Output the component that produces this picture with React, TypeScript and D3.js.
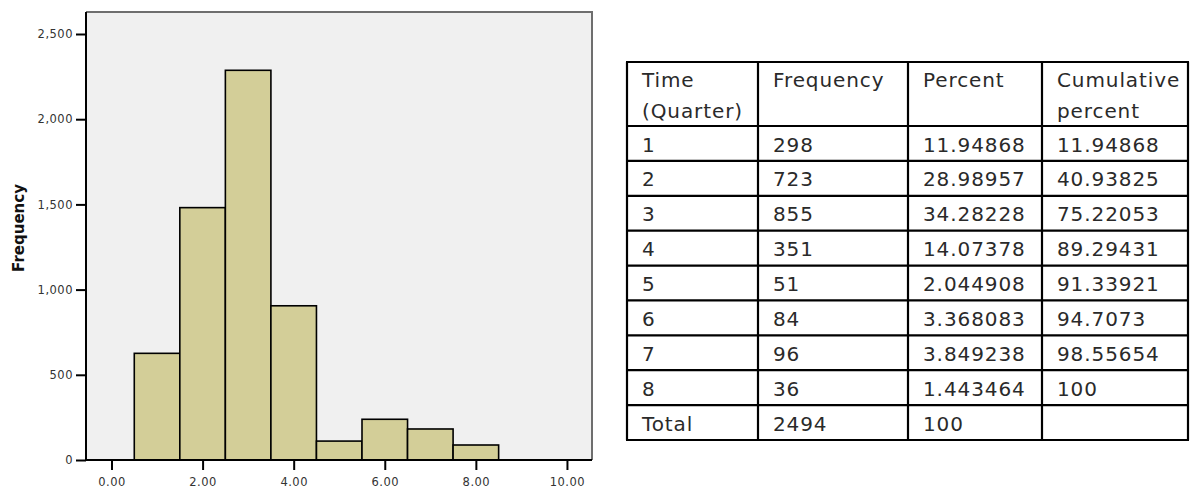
import * as d3 from "d3";
import { useEffect, useRef } from "react";

// histogram bins (quarter midpoints) and counts
const binCenters = [1, 2, 3, 4, 5, 6, 7, 8];
const binCounts = [626, 1481, 2287, 905, 111, 239, 182, 88];
const yTicks = [0, 500, 1000, 1500, 2000, 2500];
const xTicks = [0, 2, 4, 6, 8, 10];

// frequency table
const tableHeader = [["Time", "(Quarter)"], ["Frequency"], ["Percent"], ["Cumulative", "percent"]];
const quarters = ["1", "2", "3", "4", "5", "6", "7", "8", "Total"];
const frequencies = ["298", "723", "855", "351", "51", "84", "96", "36", "2494"];
const percents = ["11.94868", "28.98957", "34.28228", "14.07378", "2.044908", "3.368083", "3.849238", "1.443464", "100"];
const cumulatives = ["11.94868", "40.93825", "75.22053", "89.29431", "91.33921", "94.7073", "98.55654", "100", ""];

const App = () => {
  const svgRef = useRef(null);

  useEffect(() => {
    const w = 1190;
    const h = 489;
    const svg = d3.select(svgRef.current).attr("width", w).attr("height", h);
    svg.selectAll("*").remove();

    // plot area
    const left = 86, right = 592, top = 12, bottom = 460;
    const xScale = d3.scaleLinear().domain([-0.56, 10.55]).range([left, right]);
    const yScale = d3.scaleLinear().domain([0, 2500]).range([bottom, 34]);

    svg
      .append("rect")
      .attr("x", left)
      .attr("y", top)
      .attr("width", right - left)
      .attr("height", bottom - top)
      .attr("fill", "#f0f0f0");

    // top / right frame is grey
    svg
      .append("path")
      .attr("d", `M${left},${top}H${right}V${bottom}`)
      .attr("fill", "none")
      .attr("stroke", "#6e6e6e")
      .attr("stroke-width", 2);

    // bars
    svg
      .selectAll("rect.bar")
      .data(binCenters)
      .enter()
      .append("rect")
      .attr("class", "bar")
      .attr("x", (d) => xScale(d - 0.5))
      .attr("width", (d) => xScale(d + 0.5) - xScale(d - 0.5))
      .attr("y", (d, i) => yScale(binCounts[i]))
      .attr("height", (d, i) => yScale(0) - yScale(binCounts[i]))
      .attr("fill", "#d3ce98")
      .attr("stroke", "#000")
      .attr("stroke-width", 1.6);

    // axes
    const yAxis = d3
      .axisLeft(yScale)
      .tickValues(yTicks)
      .tickSize(10)
      .tickPadding(3)
      .tickFormat(d3.format(","));
    const gy = svg.append("g").attr("transform", `translate(${left},0)`).call(yAxis);
    gy.select(".domain").attr("d", `M0,${top}V${bottom}`).attr("stroke", "#000").attr("stroke-width", 2);

    const xAxis = d3
      .axisBottom(xScale)
      .tickValues(xTicks)
      .tickSize(10)
      .tickPadding(8)
      .tickFormat(d3.format(".2f"));
    const gx = svg.append("g").attr("transform", `translate(0,${bottom})`).call(xAxis);
    gx.select(".domain").attr("d", `M${left},0H${right}`).attr("stroke", "#000").attr("stroke-width", 2);

    svg.selectAll(".tick line").attr("stroke", "#000").attr("stroke-width", 2);
    svg
      .selectAll(".tick text")
      .attr("font-family", "DejaVu Sans")
      .attr("font-size", 11.5)
      .attr("letter-spacing", 0.5)
      .attr("fill", "#333");

    svg
      .append("text")
      .text("Frequency")
      .attr("transform", "translate(24,228) rotate(-90)")
      .attr("text-anchor", "middle")
      .attr("font-family", "DejaVu Sans")
      .attr("font-weight", "bold")
      .attr("font-size", 15)
      .attr("fill", "#111");

    // table
    const colX = [627, 758, 908, 1042, 1188];
    const tTop = 62, headBottom = 126, tBottom = 440;
    const rowH = (tBottom - headBottom) / quarters.length;
    const rowY = d3.range(quarters.length + 1).map((i) => headBottom + i * rowH);

    const t = svg.append("g");
    [tTop, ...rowY].forEach((y) =>
      t.append("line").attr("x1", colX[0] - 1).attr("x2", colX[4] + 1).attr("y1", y).attr("y2", y)
    );
    colX.forEach((x) => t.append("line").attr("x1", x).attr("x2", x).attr("y1", tTop).attr("y2", tBottom));
    t.selectAll("line").attr("stroke", "#000").attr("stroke-width", 2.2);

    const textStyle = (sel) =>
      sel
        .attr("font-family", "DejaVu Sans")
        .attr("font-size", 20)
        .attr("letter-spacing", 0.9)
        .attr("fill", "#2a2a2a");

    tableHeader.forEach((lines, c) =>
      lines.forEach((s, j) =>
        t
          .append("text")
          .text(s)
          .attr("x", colX[c] + 15)
          .attr("y", tTop + 24.5 + j * 31)
          .call(textStyle)
      )
    );

    const columns = [quarters, frequencies, percents, cumulatives];
    columns.forEach((col, c) =>
      col.forEach((s, r) =>
        t
          .append("text")
          .text(s)
          .attr("x", colX[c] + 15)
          .attr("y", rowY[r] + 25.5)
          .call(textStyle)
      )
    );
  }, []);

  return (
    <div style={{ position: "absolute", left: 0, top: 0 }}>
      <svg ref={svgRef} style={{ display: "block" }}></svg>
    </div>
  );
};

export default App;
